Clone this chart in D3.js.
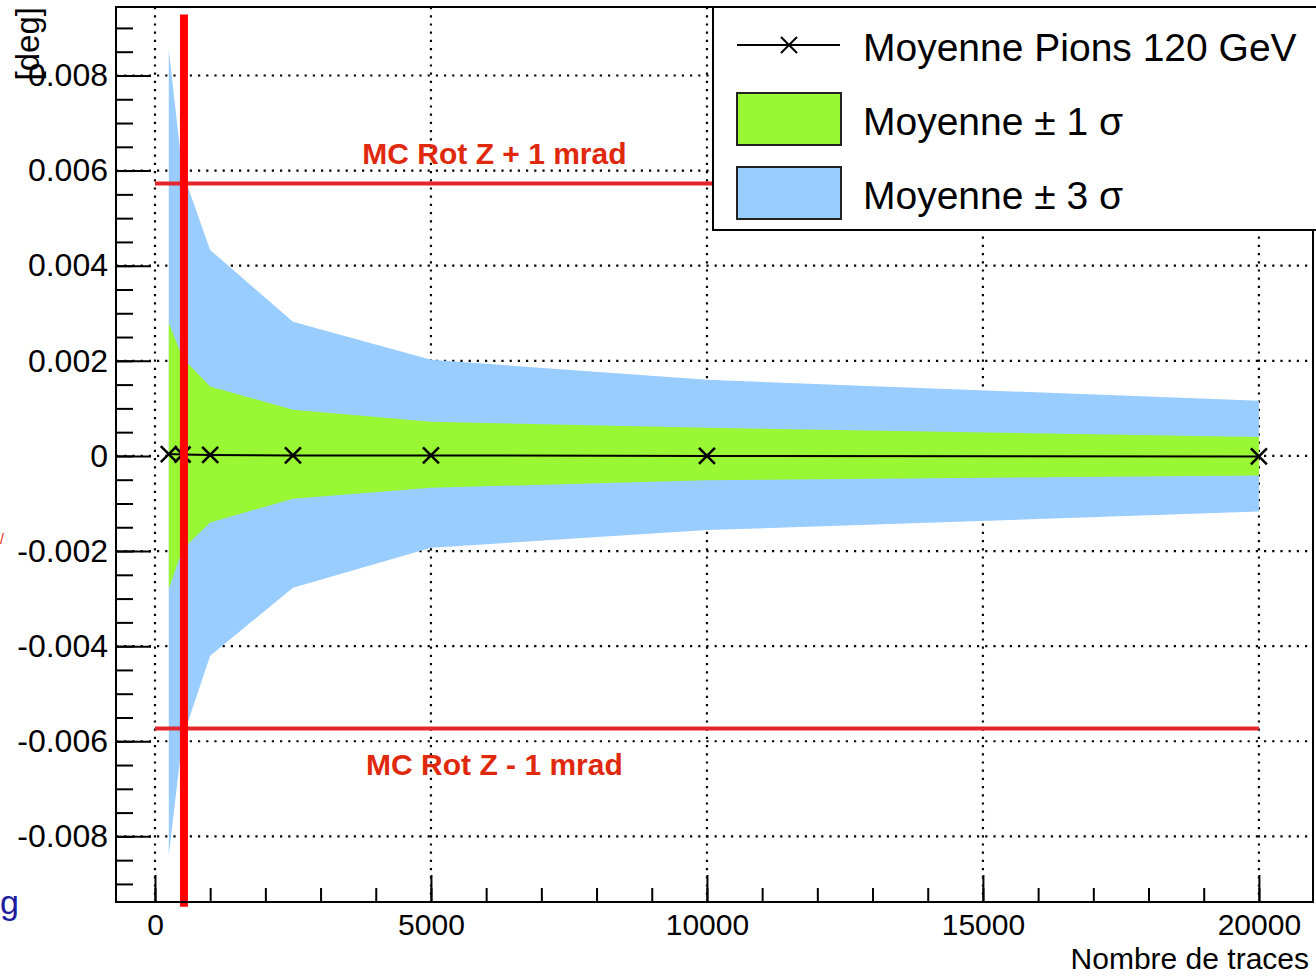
<!DOCTYPE html>
<html>
<head>
<meta charset="utf-8">
<script src="https://cdn.jsdelivr.net/npm/d3@7"></script>
<style>
  body { margin: 0; background: #fff; }
  svg { display: block; font-family: "Liberation Sans", Arial, Helvetica, sans-serif; }
</style>
</head>
<body>
<div id="chart"></div>
<script>
// values
var nTraces = [250, 500, 1000, 2500, 5000, 10000, 20000];
var meanVal = [0.00004, 0.00003, 0.00002, 0.00001, 0.00001, 0.0, -0.00001];
var plus1Sigma = [0.0028, 0.00206, 0.00146, 0.00097, 0.00072, 0.00059, 0.0004];
var minus1Sigma = [-0.0028, -0.00196, -0.0014, -0.0009, -0.00067, -0.00051, -0.00041];
var plus3Sigma = [0.00854, 0.00597, 0.00433, 0.00282, 0.00202, 0.0016, 0.00116];
var minus3Sigma = [-0.0084, -0.00593, -0.0042, -0.00277, -0.00193, -0.00156, -0.00117];

var xMajorTicks = [0, 5000, 10000, 15000, 20000];
var yMajorTicks = [-0.008, -0.006, -0.004, -0.002, 0, 0.002, 0.004, 0.006, 0.008];

var mcRot = 0.00573;       // 1 mrad reference lines
var cutTraces = 525;       // red vertical cut
var cutRange = [0.00928, -0.00948];

var legendLabels = ["Moyenne Pions 120 GeV", "Moyenne \u00b1 1 \u03c3", "Moyenne \u00b1 3 \u03c3"];

const margin = {top: 7, right: 3, bottom: 78, left: 116},
    width = 1316 - margin.left - margin.right,
    height = 980 - margin.top - margin.bottom;

var root = d3.select("#chart").append("svg")
    .attr("width", 1316)
    .attr("height", 980);

var svg = root.append("g")
    .attr("transform", `translate(${margin.left},${margin.top})`);

const x = d3.scaleLinear().domain([-706, 20980]).range([0, width]);
const y = d3.scaleLinear().domain([-0.00938, 0.00944]).range([height, 0]);

var pts = nTraces.map(function (n, i) {
    return {n: n, m: meanVal[i], p1: plus1Sigma[i], m1: minus1Sigma[i], p3: plus3Sigma[i], m3: minus3Sigma[i]};
});

// grid
svg.append("g").selectAll("line")
    .data(xMajorTicks)
    .join("line")
    .attr("x1", d => x(d)).attr("x2", d => x(d))
    .attr("y1", 0).attr("y2", height)
    .attr("stroke", "#000").attr("stroke-width", 2.2).attr("stroke-dasharray", "2.2,6");
svg.append("g").selectAll("line")
    .data(yMajorTicks)
    .join("line")
    .attr("x1", 0).attr("x2", width)
    .attr("y1", d => y(d)).attr("y2", d => y(d))
    .attr("stroke", "#000").attr("stroke-width", 2.2).attr("stroke-dasharray", "2.2,6");

// bands
svg.append("path")
    .datum(pts)
    .attr("fill", "#99ccff")
    .attr("d", d3.area().x(d => x(d.n)).y0(d => y(d.m3)).y1(d => y(d.p3)));
svg.append("path")
    .datum(pts)
    .attr("fill", "#99f733")
    .attr("d", d3.area().x(d => x(d.n)).y0(d => y(d.m1)).y1(d => y(d.p1)));

// mean line + markers
svg.append("path")
    .datum(pts)
    .attr("fill", "none")
    .attr("stroke", "#000")
    .attr("stroke-width", 2)
    .attr("d", d3.line().x(d => x(d.n)).y(d => y(d.m)));
svg.append("g").selectAll("path")
    .data(pts)
    .join("path")
    .attr("transform", d => `translate(${x(d.n)},${y(d.m)})`)
    .attr("d", "M-8,-8L8,8M-8,8L8,-8")
    .attr("stroke", "#000")
    .attr("stroke-width", 2.5)
    .attr("fill", "none");

// red reference lines
svg.append("g").selectAll("line")
    .data([mcRot, -mcRot])
    .join("line")
    .attr("x1", x(0)).attr("x2", x(20000))
    .attr("y1", d => y(d)).attr("y2", d => y(d))
    .attr("stroke", "#e3262b").attr("stroke-width", 4);

svg.append("line")
    .attr("x1", x(cutTraces)).attr("x2", x(cutTraces))
    .attr("y1", y(cutRange[0])).attr("y2", y(cutRange[1]))
    .attr("stroke", "#ff0000").attr("stroke-width", 8);

svg.append("text")
    .attr("x", x(6150)).attr("y", y(mcRot) - 19)
    .attr("text-anchor", "middle")
    .style("font-size", "30px").style("font-weight", "bold")
    .attr("fill", "#e0280c")
    .text("MC Rot Z + 1 mrad");
svg.append("text")
    .attr("x", x(6150)).attr("y", y(-mcRot) + 47)
    .attr("text-anchor", "middle")
    .style("font-size", "30px").style("font-weight", "bold")
    .attr("fill", "#e0280c")
    .text("MC Rot Z - 1 mrad");

// axes, ROOT style ticks pointing inward
svg.append("g")
    .call(d3.axisLeft(y).tickValues(d3.range(-0.009, 0.0091, 0.0005)).tickSize(-17).tickFormat(""))
    .call(g => g.select(".domain").remove())
    .selectAll("line").attr("stroke-width", 2);
svg.append("g")
    .call(d3.axisLeft(y).tickValues(yMajorTicks).tickSize(-35).tickPadding(8)
        .tickFormat(d => d === 0 ? "0" : d.toFixed(3)))
    .call(g => g.select(".domain").remove())
    .call(g => g.selectAll("line").attr("stroke-width", 2))
    .call(g => g.selectAll("text").style("font-size", "32px").attr("fill", "#000"));

svg.append("g")
    .attr("transform", `translate(0,${height})`)
    .call(d3.axisBottom(x).tickValues(d3.range(0, 20001, 1000)).tickSize(-14).tickFormat(""))
    .call(g => g.select(".domain").remove())
    .selectAll("line").attr("stroke-width", 2);
svg.append("g")
    .attr("transform", `translate(0,${height})`)
    .call(d3.axisBottom(x).tickValues(xMajorTicks).tickSize(-27).tickPadding(12).tickFormat(d3.format("d")))
    .call(g => g.select(".domain").remove())
    .call(g => g.selectAll("line").attr("stroke-width", 2))
    .call(g => g.selectAll("text").style("font-size", "30px").attr("fill", "#000"));

// frame
svg.append("rect")
    .attr("width", width).attr("height", height)
    .attr("fill", "none").attr("stroke", "#000").attr("stroke-width", 2);

// axis titles
svg.append("text")
    .attr("x", width - 4).attr("y", height + 67)
    .attr("text-anchor", "end")
    .style("font-size", "30px")
    .text("Nombre de traces");
root.append("text")
    .attr("transform", "translate(39,7) rotate(-90)")
    .attr("text-anchor", "end")
    .style("font-size", "33px")
    .text("[deg]");

// legend
var leg = root.append("g").attr("transform", "translate(713,7)");
leg.append("rect")
    .attr("width", 620).attr("height", 223)
    .attr("fill", "#fff").attr("stroke", "#000").attr("stroke-width", 2);
leg.append("line")
    .attr("x1", 24).attr("x2", 127).attr("y1", 38).attr("y2", 38)
    .attr("stroke", "#000").attr("stroke-width", 2);
leg.append("path")
    .attr("transform", "translate(76,38)")
    .attr("d", "M-8,-8L8,8M-8,8L8,-8")
    .attr("stroke", "#000").attr("stroke-width", 2);
leg.append("rect")
    .attr("x", 24).attr("y", 86).attr("width", 104).attr("height", 52)
    .attr("fill", "#99f733").attr("stroke", "#222").attr("stroke-width", 2);
leg.append("rect")
    .attr("x", 24).attr("y", 160).attr("width", 104).attr("height", 52)
    .attr("fill", "#99ccff").attr("stroke", "#222").attr("stroke-width", 2);
leg.selectAll("text.lab")
    .data(legendLabels)
    .join("text")
    .attr("class", "lab")
    .attr("x", 150)
    .attr("y", (d, i) => 54 + i * 74)
    .style("font-size", "39px")
    .text(d => d);

// bits of the surrounding slide at the left edge
root.append("text")
    .attr("x", 0).attr("y", 914)
    .style("font-size", "34px")
    .attr("fill", "#1c1c9c")
    .text("g");
root.append("text")
    .attr("x", 0).attr("y", 544)
    .style("font-size", "14px")
    .attr("fill", "#e0280c")
    .text("/");
</script>
</body>
</html>
